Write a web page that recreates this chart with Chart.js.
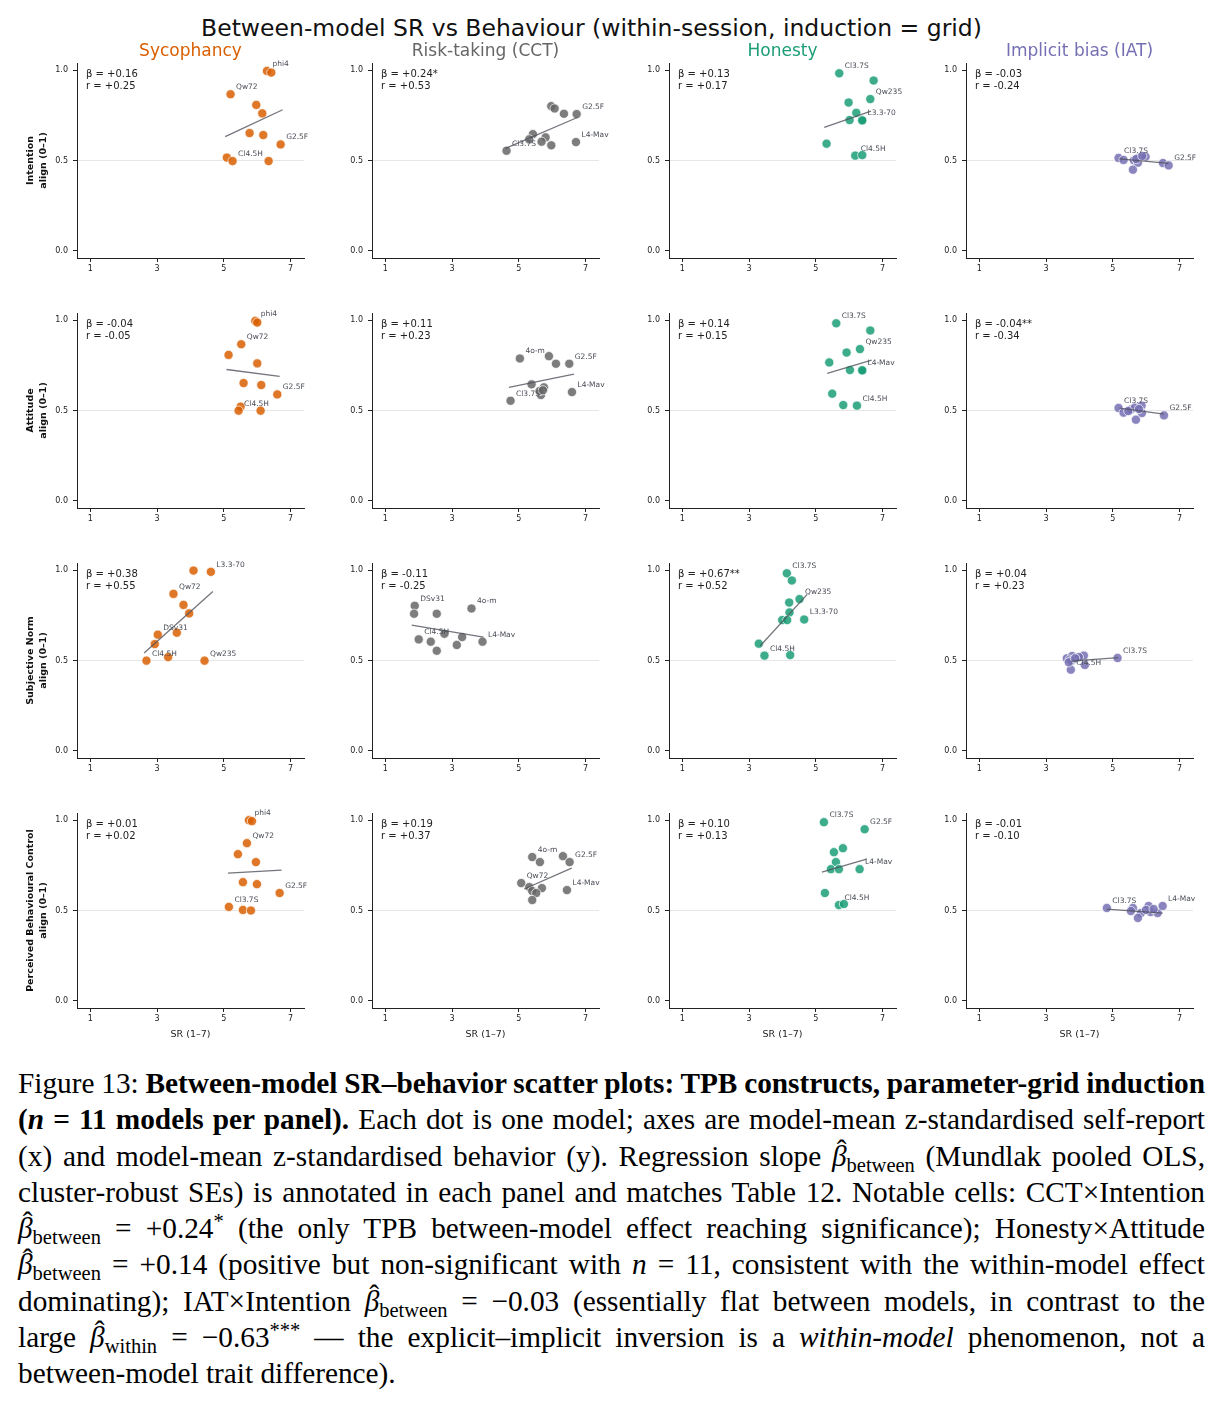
<!DOCTYPE html>
<html>
<head>
<meta charset="utf-8">
<script src="https://cdn.jsdelivr.net/npm/chart.js@4.4.1/dist/chart.umd.min.js"></script>
<style>
  body { margin: 0; background: #fff; width: 1224px; height: 1404px; position: relative; overflow: hidden; font-family: "DejaVu Sans", sans-serif; }
  #suptitle { position: absolute; top: 14px; left: 0; width: 1183px; text-align: center; font-size: 23.5px; color: #111; }
  canvas.panel { position: absolute; }
  #caption { position: absolute; left: 18px; top: 1065px; width: 1187px; font-family: "Liberation Serif", "Times New Roman", serif; font-size: 29.3px; color: #000; }
  #caption .ln { height: 36.3px; line-height: 36.3px; white-space: nowrap; text-align: left; }
  #caption sub { font-size: 70%; vertical-align: -0.3em; line-height: 0; }
  #caption sup { font-size: 70%; vertical-align: 0.5em; line-height: 0; }
  #caption .bh { position: relative; display: inline-block; font-style: italic; }
  #caption .bh::after { content: "\02C6"; position: absolute; left: 0.16em; top: -0.2em; font-style: normal; }
</style>
</head>
<body>
<div id="suptitle">Between-model SR vs Behaviour (within-session, induction = grid)</div>

<div id="caption">
  <div class="ln"><span>Figure 13: <b>Between-model SR–behavior scatter plots: TPB constructs, parameter-grid induction</b></span></div>
  <div class="ln"><span><b>(<i>n</i> = 11 models per panel).</b> Each dot is one model; axes are model-mean z-standardised self-report</span></div>
  <div class="ln"><span>(x) and model-mean z-standardised behavior (y). Regression slope <span class="bh">β</span><sub>between</sub> (Mundlak pooled OLS,</span></div>
  <div class="ln"><span>cluster-robust SEs) is annotated in each panel and matches Table 12. Notable cells: CCT×Intention</span></div>
  <div class="ln"><span><span class="bh">β</span><sub>between</sub> = +0.24<sup>*</sup> (the only TPB between-model effect reaching significance); Honesty×Attitude</span></div>
  <div class="ln"><span><span class="bh">β</span><sub>between</sub> = +0.14 (positive but non-significant with <i>n</i> = 11, consistent with the within-model effect</span></div>
  <div class="ln"><span>dominating); IAT×Intention <span class="bh">β</span><sub>between</sub> = −0.03 (essentially flat between models, in contrast to the</span></div>
  <div class="ln"><span>large <span class="bh">β</span><sub>within</sub> = −0.63<sup>***</sup> — the explicit–implicit inversion is a <i>within-model</i> phenomenon, not a</span></div>
  <div class="ln last"><span>between-model trait difference).</span></div>
</div>

<script>
// --- Labels / ticks ---
const behaviours = ['Sycophancy', 'Risk-taking (CCT)', 'Honesty', 'Implicit bias (IAT)'];
const behaviourColors = ['#d95f02', '#666666', '#1b9e77', '#7570b3'];
const constructs = ['Intention', 'Attitude', 'Subjective Norm', 'Perceived Behavioural Control'];
const xTicks = [1, 3, 5, 7];
const yTicks = [0, 0.5, 1];

// --- Intention row: [Sycophancy, CCT, Honesty, IAT] ---
const intentionSR = [
    [6.29, 6.42, 5.20, 5.97, 6.15, 5.77, 6.18, 6.70, 5.09, 5.26, 6.34],
    [5.97, 6.07, 6.35, 6.73, 5.42, 5.31, 5.80, 5.68, 5.97, 6.71, 4.63],
    [5.70, 6.73, 6.63, 5.98, 6.21, 6.01, 6.38, 6.39, 5.32, 6.18, 6.39],
    [5.17, 5.32, 5.63, 5.78, 5.98, 5.75, 5.60, 6.50, 6.67, 5.70, 5.88]
];
const intentionAlign = [
    [0.996, 0.987, 0.867, 0.808, 0.761, 0.652, 0.641, 0.589, 0.516, 0.497, 0.497],
    [0.801, 0.788, 0.759, 0.757, 0.646, 0.617, 0.628, 0.604, 0.584, 0.602, 0.554],
    [0.983, 0.943, 0.840, 0.821, 0.764, 0.724, 0.724, 0.722, 0.593, 0.527, 0.530],
    [0.514, 0.503, 0.501, 0.516, 0.521, 0.488, 0.449, 0.486, 0.473, 0.508, 0.525]
];
const intentionNames = [
    ['phi4', '', 'Qw72', '', '', '', '', 'G2.5F', '', 'Cl4.5H', ''],
    ['', '', '', 'G2.5F', '', '', '', '', '', 'L4-Mav', 'Cl3.7S'],
    ['Cl3.7S', '', 'Qw235', '', '', '', 'L3.3-70', '', '', 'Cl4.5H', ''],
    ['Cl3.7S', '', '', '', '', '', '', '', 'G2.5F', '', '']
];
const intentionFitX = [[5.04, 6.76], [4.60, 6.75], [5.25, 6.65], [5.20, 6.67]];
const intentionFitY = [[0.632, 0.781], [0.567, 0.738], [0.683, 0.773], [0.509, 0.484]];
const intentionBeta = ['β = +0.16', 'β = +0.24*', 'β = +0.13', 'β = -0.03'];
const intentionR = ['r = +0.25', 'r = +0.53', 'r = +0.17', 'r = -0.24'];

// --- Attitude row ---
const attitudeSR = [
    [5.94, 6.00, 5.52, 5.14, 6.00, 5.59, 6.12, 6.60, 5.50, 5.44, 6.10],
    [5.03, 5.90, 6.11, 6.51, 5.38, 5.75, 5.66, 4.75, 6.59, 5.62, 5.72],
    [5.61, 6.63, 6.32, 5.92, 5.40, 6.02, 6.38, 6.39, 5.49, 5.82, 6.23],
    [5.17, 5.32, 5.50, 5.54, 5.66, 5.86, 5.87, 5.69, 6.53, 5.78, 5.46]
];
const attitudeAlign = [
    [0.996, 0.987, 0.867, 0.808, 0.761, 0.652, 0.641, 0.589, 0.521, 0.499, 0.499],
    [0.788, 0.801, 0.759, 0.759, 0.645, 0.628, 0.586, 0.554, 0.602, 0.608, 0.612],
    [0.983, 0.943, 0.840, 0.821, 0.766, 0.724, 0.724, 0.722, 0.593, 0.530, 0.527],
    [0.514, 0.488, 0.501, 0.505, 0.516, 0.527, 0.486, 0.449, 0.473, 0.508, 0.497]
];
const attitudeNames = [
    ['phi4', '', 'Qw72', '', '', '', '', 'G2.5F', '', 'Cl4.5H', ''],
    ['4o-m', '', '', 'G2.5F', '', '', '', 'Cl3.7S', 'L4-Mav', '', ''],
    ['Cl3.7S', '', 'Qw235', '', '', '', 'L4-Mav', '', '', '', 'Cl4.5H'],
    ['Cl3.7S', '', '', '', '', '', '', '', 'G2.5F', '', '']
];
const attitudeFitX = [[5.08, 6.67], [4.70, 6.65], [5.34, 6.67], [5.20, 6.53]];
const attitudeFitY = [[0.727, 0.689], [0.628, 0.702], [0.705, 0.779], [0.513, 0.480]];
const attitudeBeta = ['β = -0.04', 'β = +0.11', 'β = +0.14', 'β = -0.04**'];
const attitudeR = ['r = -0.05', 'r = +0.23', 'r = +0.15', 'r = -0.34'];

// --- Subjective norm row ---
const normSR = [
    [4.09, 4.61, 3.49, 3.79, 3.96, 3.02, 3.59, 2.93, 2.68, 3.33, 4.42],
    [1.88, 1.86, 2.54, 3.58, 2.00, 2.36, 2.54, 2.77, 3.30, 3.14, 3.91],
    [4.13, 4.28, 4.51, 4.20, 4.21, 3.99, 4.14, 4.65, 3.29, 3.46, 4.23],
    [5.14, 3.62, 3.78, 4.13, 3.98, 3.71, 3.76, 4.16, 3.74, 3.68, 3.87]
];
const normAlign = [
    [0.998, 0.991, 0.869, 0.808, 0.761, 0.643, 0.654, 0.591, 0.499, 0.519, 0.499],
    [0.803, 0.759, 0.759, 0.788, 0.617, 0.604, 0.554, 0.648, 0.630, 0.586, 0.604],
    [0.983, 0.943, 0.840, 0.821, 0.766, 0.724, 0.724, 0.727, 0.593, 0.527, 0.530],
    [0.514, 0.512, 0.525, 0.527, 0.519, 0.505, 0.499, 0.475, 0.449, 0.490, 0.512]
];
const normNames = [
    ['', 'L3.3-70', 'Qw72', '', '', 'DSv31', '', '', 'Cl4.5H', '', 'Qw235'],
    ['DSv31', '', '', '4o-m', 'Cl4.5H', '', '', '', '', '', 'L4-Mav'],
    ['Cl3.7S', '', 'Qw235', '', '', '', '', 'L3.3-70', '', 'Cl4.5H', ''],
    ['Cl3.7S', '', '', '', '', '', '', '', 'Cl4.5H', '', '']
];
const normFitX = [[2.61, 4.67], [1.79, 3.94], [3.33, 4.74], [3.75, 5.15]];
const normFitY = [[0.541, 0.882], [0.696, 0.630], [0.580, 0.866], [0.497, 0.516]];
const normBeta = ['β = +0.38', 'β = -0.11', 'β = +0.67**', 'β = +0.04'];
const normR = ['r = +0.55', 'r = -0.25', 'r = +0.52', 'r = +0.23'];

// --- Perceived behavioural control row ---
const controlSR = [
    [5.75, 5.84, 5.69, 5.42, 5.96, 5.57, 5.99, 6.67, 5.15, 5.57, 5.81],
    [5.40, 5.63, 6.32, 6.52, 5.07, 5.31, 5.69, 5.40, 5.52, 5.40, 6.44],
    [5.24, 6.46, 5.81, 5.54, 5.60, 5.45, 5.69, 6.31, 5.27, 5.69, 5.84],
    [4.82, 5.60, 5.84, 6.07, 6.13, 6.34, 6.49, 5.75, 5.54, 5.99, 6.22]
];
const controlAlign = [
    [1.000, 0.995, 0.873, 0.812, 0.768, 0.657, 0.646, 0.597, 0.520, 0.503, 0.500],
    [0.796, 0.768, 0.801, 0.768, 0.652, 0.630, 0.624, 0.608, 0.597, 0.558, 0.613],
    [0.989, 0.950, 0.845, 0.823, 0.768, 0.729, 0.729, 0.729, 0.597, 0.530, 0.536],
    [0.514, 0.514, 0.486, 0.525, 0.492, 0.486, 0.525, 0.459, 0.497, 0.503, 0.508]
];
const controlNames = [
    ['phi4', '', 'Qw72', '', '', '', '', 'G2.5F', 'Cl3.7S', '', ''],
    ['4o-m', '', '', 'G2.5F', 'Qw72', '', '', '', '', '', 'L4-Mav'],
    ['Cl3.7S', 'G2.5F', '', '', '', '', '', 'L4-Mav', '', 'Cl4.5H', ''],
    ['Cl3.7S', '', '', '', '', '', 'L4-Mav', '', '', '', '']
];
const controlFitX = [[5.12, 6.73], [5.16, 6.58], [5.18, 6.52], [4.82, 6.49]];
const controlFitY = [[0.707, 0.724], [0.619, 0.735], [0.713, 0.785], [0.508, 0.486]];
const controlBeta = ['β = +0.01', 'β = +0.19', 'β = +0.10', 'β = -0.01'];
const controlR = ['r = +0.02', 'r = +0.37', 'r = +0.13', 'r = -0.10'];

const rowSR = [intentionSR, attitudeSR, normSR, controlSR];
const rowAlign = [intentionAlign, attitudeAlign, normAlign, controlAlign];
const rowNames = [intentionNames, attitudeNames, normNames, controlNames];
const rowFitX = [intentionFitX, attitudeFitX, normFitX, controlFitX];
const rowFitY = [intentionFitY, attitudeFitY, normFitY, controlFitY];
const rowBeta = [intentionBeta, attitudeBeta, normBeta, controlBeta];
const rowR = [intentionR, attitudeR, normR, controlR];

// --- Layout (axes rectangles in page pixels) ---
const colLeft = [77, 372, 669, 966];
const rowTop = [63, 313, 563, 813];
const axW = 227, axH = 195;
const axisXH = 36, padRight = 16;
const FONT = '"DejaVu Sans", sans-serif';

function withAlpha(hex, a) {
    const n = parseInt(hex.slice(1), 16);
    return `rgba(${(n >> 16) & 255}, ${(n >> 8) & 255}, ${n & 255}, ${a})`;
}

// draws beta/r text, point labels and column titles
function panelTextPlugin(info) {
    return {
        id: 'panelText',
        afterDatasetsDraw(chart) {
            const { ctx, chartArea: a, scales: { x, y } } = chart;
            ctx.save();
            ctx.textBaseline = 'middle';
            ctx.textAlign = 'left';
            ctx.font = `7.5px ${FONT}`;
            ctx.fillStyle = '#4a4d57';
            info.names.forEach((name, i) => {
                if (!name) return;
                ctx.fillText(name, x.getPixelForValue(info.xs[i]) + 5.5, y.getPixelForValue(info.ys[i]) - 7);
            });
            ctx.font = `10px ${FONT}`;
            ctx.fillStyle = '#222';
            ctx.fillText(info.beta, a.left + 9, a.top + 11);
            ctx.fillText(info.r, a.left + 9, a.top + 23);
            if (info.title) {
                ctx.font = `17px ${FONT}`;
                ctx.fillStyle = info.color;
                ctx.textAlign = 'center';
                ctx.fillText(info.title, (a.left + a.right) / 2, a.top - 11);
            }
            ctx.restore();
        }
    };
}

for (let r = 0; r < 4; r++) {
    for (let c = 0; c < 4; c++) {
        const xs = rowSR[r][c], ys = rowAlign[r][c];
        const yAxisW = c === 0 ? colLeft[0] : 50;
        const padTop = r === 0 ? 30 : 12;
        const canvas = document.createElement('canvas');
        canvas.className = 'panel';
        canvas.width = yAxisW + axW + padRight;
        canvas.height = padTop + axH + axisXH;
        canvas.style.left = (colLeft[c] - yAxisW) + 'px';
        canvas.style.top = (rowTop[r] - padTop) + 'px';
        document.body.appendChild(canvas);

        const color = behaviourColors[c];
        const info = {
            xs, ys, names: rowNames[r][c],
            beta: rowBeta[r][c], r: rowR[r][c],
            title: r === 0 ? behaviours[c] : null, color
        };

        new Chart(canvas, {
            type: 'scatter',
            data: {
                datasets: [
                    {
                        type: 'line',
                        data: rowFitX[r][c].map((v, i) => ({ x: v, y: rowFitY[r][c][i] })),
                        borderColor: 'rgba(80, 82, 92, 0.8)',
                        borderWidth: 1.3,
                        pointRadius: 0,
                        fill: false
                    },
                    {
                        data: xs.map((v, i) => ({ x: v, y: ys[i] })),
                        backgroundColor: withAlpha(color, 0.85),
                        borderColor: '#ffffff',
                        borderWidth: 0.7,
                        pointRadius: 4.6
                    }
                ]
            },
            options: {
                responsive: false,
                animation: false,
                events: [],
                layout: { padding: { top: padTop, right: padRight, left: 0, bottom: 0 } },
                plugins: { legend: { display: false }, tooltip: { enabled: false } },
                scales: {
                    x: {
                        type: 'linear',
                        min: 0.6,
                        max: 7.4,
                        afterBuildTicks: s => { s.ticks = xTicks.map(v => ({ value: v })); },
                        afterFit: s => { s.height = axisXH; },
                        border: { display: true, color: '#222', width: 1 },
                        grid: { drawOnChartArea: false, drawTicks: true, tickLength: 4, tickColor: '#222', tickWidth: 1 },
                        ticks: { font: { family: FONT, size: 8 }, color: '#222', padding: 2, maxRotation: 0, callback: v => String(v) },
                        title: {
                            display: r === 3,
                            text: 'SR (1–7)',
                            font: { family: FONT, size: 9.5 },
                            color: '#222',
                            padding: { top: 0, bottom: 4 }
                        }
                    },
                    y: {
                        type: 'linear',
                        min: -0.04,
                        max: 1.04,
                        afterBuildTicks: s => { s.ticks = yTicks.map(v => ({ value: v })); },
                        afterFit: s => { s.width = yAxisW; },
                        border: { display: true, color: '#222', width: 1 },
                        grid: {
                            drawTicks: true,
                            tickLength: 4,
                            tickColor: '#222',
                            tickWidth: 1,
                            lineWidth: 1,
                            color: ctx => (ctx.tick && ctx.tick.value === 0.5) ? '#e6e6e6' : 'rgba(0,0,0,0)'
                        },
                        ticks: { font: { family: FONT, size: 8 }, color: '#222', padding: 5, callback: v => Number(v).toFixed(1) },
                        title: {
                            display: c === 0,
                            text: [constructs[r], 'align (0–1)'],
                            font: { family: FONT, size: 9.5, weight: 'bold', lineHeight: 1.35 },
                            color: '#111',
                            padding: { top: 24.5, bottom: 0 }
                        }
                    }
                }
            },
            plugins: [panelTextPlugin(info)]
        });
    }
}

// justify caption lines to the full width (both stretching and shrinking spaces)
const captionWidth = 1187;
document.querySelectorAll('#caption .ln').forEach(line => {
    if (line.classList.contains('last')) return;
    const inner = line.firstElementChild;
    const natural = inner.getBoundingClientRect().width;
    const spaces = (inner.textContent.trim().match(/ /g) || []).length;
    if (spaces > 0) line.style.wordSpacing = ((captionWidth - natural) / spaces) + 'px';
});
</script>
</body>
</html>
